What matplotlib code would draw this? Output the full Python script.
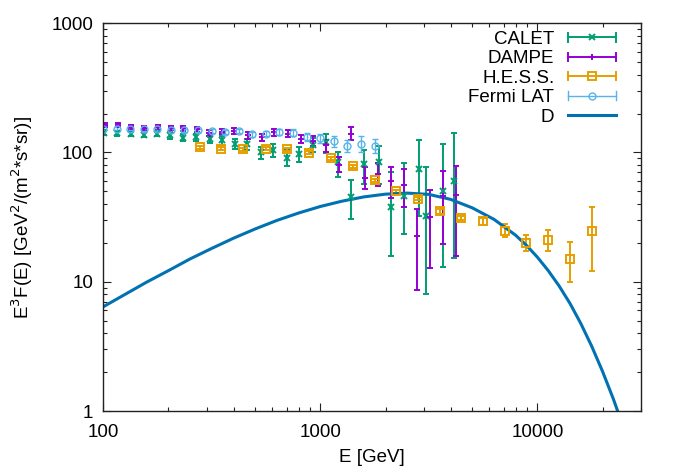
import numpy as np
import matplotlib
matplotlib.use('Agg')
import matplotlib.pyplot as plt
import matplotlib.ticker as ticker
from matplotlib.legend_handler import HandlerBase
from matplotlib.container import ErrorbarContainer
from matplotlib.lines import Line2D

plt.rcParams['font.family'] = ['Liberation Sans', 'DejaVu Sans']
plt.rcParams['font.size'] = 13.5

# CALET
calet_E = [101, 116, 134, 154, 177, 203, 233, 268, 309, 351, 404, 461, 531, 606,
           700, 800, 922, 1067, 1212, 1384, 1595, 1862, 2118, 2440, 2836, 3077, 3670, 4130]
calet_F = [142, 141, 140, 137, 140, 135.5, 130, 131.5, 128, 125, 117, 116, 100, 104,
           91, 97, 115, 120, 85, 45.6, 82, 85, 38, 46.4, 74, 32, 50, 60]
calet_lo = [136, 135, 134, 131, 133, 128, 122, 123, 119, 115, 107, 105, 89, 92,
            79, 84, 100, 99, 64.4, 30.6, 57, 57, 15.9, 23.4, 32.5, 8.1, 13.1, 15.4]
calet_hi = [148, 147, 146, 143, 147, 143, 138, 140, 137, 135, 127, 127, 111, 116,
            104, 111, 130, 138, 100.5, 60.7, 104, 113, 70, 82.6, 125, 76.9, 117, 142]

# DAMPE
dampe_E = [102, 117, 134.5, 155, 178.5, 205, 234, 270, 307, 351, 402, 466, 537, 613,
           707, 813, 927, 1068, 1216, 1391, 1602, 1844, 2110, 2428, 2787, 3187, 3669, 4198]
dampe_F = [162, 162, 157, 154, 157, 154, 154, 151, 142, 145, 146, 136, 131, 144,
           140, 128, 123, 115, 80, 140, 64, 68, 60, 56.5, 22.7, 31.9, 45.8, 47]
dampe_lo = [156, 156, 151, 148, 151, 148, 147, 144, 135, 138, 138, 128, 123, 135,
            131, 119, 113, 100, 70.5, 124, 52.3, 55.5, 44.6, 38.1, 8.7, 12.8, 19.6, 15.9]
dampe_hi = [168, 168, 163, 160, 163, 160, 161, 158, 149, 152, 154, 144, 139, 153,
            149, 137, 133, 125, 92, 157, 76.9, 82.6, 76.9, 74.8, 36.6, 50.8, 72.5, 78.3]

# H.E.S.S.
hess_E = [280, 350, 440, 560, 700, 890, 1120, 1410, 1780, 2240, 2820, 3550, 4470,
          5620, 7080, 8910, 11200, 14100, 17800]
hess_F = [110, 107, 105.5, 107, 105.5, 99.5, 90, 78, 61, 50, 44, 35, 31,
          29.5, 24.8, 19.9, 21.2, 15, 24.9]
hess_lo = [107, 104, 102.5, 104, 102.5, 96.5, 87.3, 75.7, 59.2, 48.5, 42.7, 33.6, 29.8,
           27.7, 22, 17.2, 17.2, 9.9, 12.2]
hess_hi = [113, 110, 108.5, 110, 108.5, 102.5, 92.7, 80.3, 62.8, 51.5, 45.3, 36.4, 32.2,
           31.3, 28, 23, 25.3, 20.2, 37.7]

# Fermi LAT
fermi_E = [100, 116, 133, 154, 178, 205, 237, 274, 316, 365, 422, 487, 562, 649,
           750, 866, 1000, 1155, 1334, 1540, 1778]
fermi_F = [153, 153, 153, 151, 151, 148, 148, 148, 146, 144, 146, 138, 140, 144,
           142, 131, 129, 122, 113, 117, 113]
fermi_rel = [0.03, 0.03, 0.03, 0.03, 0.03, 0.03, 0.03, 0.03, 0.035, 0.04, 0.04, 0.045,
             0.05, 0.05, 0.06, 0.07, 0.08, 0.09, 0.11, 0.14, 0.13]

# model curve D
d_E = [100, 126, 158, 200, 251, 316, 398, 501, 631, 794, 1000, 1259, 1585, 1995, 2512,
       3162, 3981, 5012, 6310, 7943, 8913, 10000, 11220, 12589, 14125, 15849, 17783,
       19953, 22387, 25119]
d_F = [6.40, 7.98, 9.90, 12.2, 15.0, 18.1, 21.7, 25.6, 29.8, 34.0, 38.2, 42.0, 45.3,
       47.6, 48.5, 47.4, 43.4, 37.3, 30.4, 22.9, 19.1, 15.5, 12.2, 9.29, 6.81, 4.76,
       3.18, 2.03, 1.24, 0.72]


class ErrKey(HandlerBase):
    def create_artists(self, legend, orig_handle, xdescent, ydescent,
                       width, height, fontsize, trans):
        src = orig_handle.lines[0]
        col = src.get_color()
        lw = float(np.atleast_1d(orig_handle.lines[2][0].get_linewidth())[0])
        y = height / 2 - ydescent
        x0, x1 = -xdescent, width - xdescent
        c = 0.22 * fontsize
        arts = [Line2D([x0, x1], [y, y], color=col, lw=lw),
                Line2D([x0, x0], [y - c, y + c], color=col, lw=lw),
                Line2D([x1, x1], [y - c, y + c], color=col, lw=lw),
                Line2D([(x0 + x1) / 2], [y], ls='none', marker=src.get_marker(),
                       ms=src.get_markersize(), mew=src.get_markeredgewidth(),
                       mec=col, mfc='none')]
        for a in arts:
            a.set_transform(trans)
        return arts


def plot_set(E, F, lo, hi, col, mk, ms, lw, label):
    E = np.array(E)
    F = np.array(F)
    yerr = [F - np.array(lo), np.array(hi) - F]
    return ax.errorbar(E, F, yerr=yerr, fmt=mk, color=col, ms=ms, mfc='none',
                       mew=lw, elinewidth=lw, capsize=2.5, capthick=lw, label=label)


fig = plt.figure(figsize=(6.74, 4.72), dpi=100)
ax = fig.add_subplot(111)
fig.subplots_adjust(left=0.153, right=0.951, bottom=0.129, top=0.951)

h1 = plot_set(calet_E, calet_F, calet_lo, calet_hi, '#009e73', 'x', 4.5, 1.4, 'CALET')
h2 = plot_set(dampe_E, dampe_F, dampe_lo, dampe_hi, '#9400d3', '+', 4.5, 1.4, 'DAMPE')
h3 = plot_set(hess_E, hess_F, hess_lo, hess_hi, '#e69f00', 's', 5.5, 1.4, 'H.E.S.S.')
fF = np.array(fermi_F)
fr = np.array(fermi_rel)
h4 = plot_set(fermi_E, fF, fF * (1 - fr), fF * (1 + fr), '#56b4e9', 'o', 5, 1.0, 'Fermi LAT')
h5, = ax.plot(d_E, d_F, color='#0072b2', lw=2.2, label='D')

ax.set_xscale('log')
ax.set_yscale('log')
ax.set_xlim(100, 30000)
ax.set_ylim(1, 1000)
fmt = ticker.FuncFormatter(lambda v, p: '%g' % v)
ax.xaxis.set_major_formatter(fmt)
ax.yaxis.set_major_formatter(fmt)
ax.xaxis.set_minor_formatter(ticker.NullFormatter())
ax.yaxis.set_minor_formatter(ticker.NullFormatter())
ax.tick_params(which='both', direction='in', top=True, right=True, width=0.8, colors='#222222',
               labelcolor='black')
ax.tick_params(which='major', length=6, pad=7, labelsize=13.5)
ax.tick_params(axis='x', which='major', pad=9)
ax.tick_params(which='minor', length=3)
for s in ax.spines.values():
    s.set_linewidth(1.0)
    s.set_color('#222222')

ax.set_xlabel('E [GeV]', fontsize=13.5, labelpad=6)
ax.set_ylabel('E$^3$F(E) [GeV$^2$/(m$^2$*s*sr)]', fontsize=13.5, labelpad=12)

ax.legend([h1, h2, h3, h4, h5], ['CALET', 'DAMPE', 'H.E.S.S.', 'Fermi LAT', 'D'],
          handler_map={ErrorbarContainer: ErrKey()}, loc='upper right',
          bbox_to_anchor=(0.954, 0.98), frameon=False, markerfirst=False,
          handlelength=2.55, handletextpad=0.75, labelspacing=0.12, borderpad=0,
          borderaxespad=0, fontsize=13.5)

fig.savefig('out.png', dpi=100)
